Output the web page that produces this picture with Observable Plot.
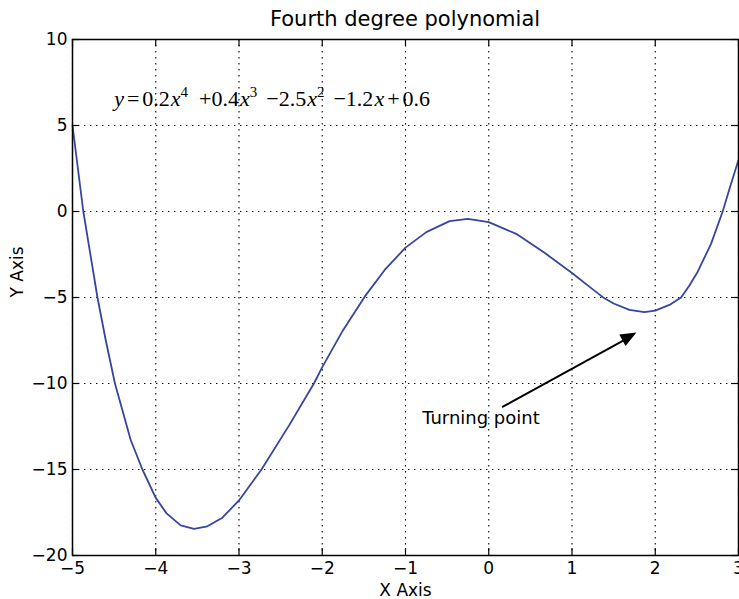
<!DOCTYPE html>
<html>
<head>
<meta charset="utf-8">
<script src="https://cdn.jsdelivr.net/npm/d3@7"></script>
<script src="https://cdn.jsdelivr.net/npm/@observablehq/plot@0.6"></script>
<style>
  html, body { margin: 0; padding: 0; background: #fff; }
  #title {
    width: 739px; height: 30px; box-sizing: border-box;
    padding-top: 9px; padding-left: 72px; padding-right: 1px;
    font: 21px/21px "DejaVu Sans", sans-serif; color: #000; text-align: center;
  }
  #chart svg { display: block; }
</style>
</head>
<body>
<div id="title">Fourth degree polynomial</div>
<div id="chart"></div>
<script>
// ---- data ----
const curveX = [-5.0, -4.87, -4.70, -4.60, -4.49, -4.30, -4.16, -4.0, -3.87, -3.70, -3.54, -3.38, -3.20, -3.0, -2.73, -2.40, -2.10, -2.0, -1.75, -1.49, -1.25, -1.0, -0.75, -0.47, -0.25, 0.0, 0.33, 0.67, 1.0, 1.2, 1.37, 1.5, 1.69, 1.87, 2.0, 2.17, 2.31, 2.41, 2.51, 2.67, 2.81, 2.90, 3.0];
const curveY = [5.0, 0.0, -5.0, -7.5, -10.0, -13.3, -15.0, -16.65, -17.55, -18.25, -18.45, -18.3, -17.8, -16.8, -15.0, -12.45, -10.0, -9.05, -6.9, -4.95, -3.4, -2.1, -1.2, -0.56, -0.43, -0.62, -1.3, -2.4, -3.58, -4.34, -4.98, -5.35, -5.72, -5.85, -5.76, -5.43, -5.0, -4.3, -3.5, -1.88, 0.0, 1.45, 3.0];

const xTicks = [-5, -4, -3, -2, -1, 0, 1, 2, 3];
const yTicks = [-20, -15, -10, -5, 0, 5, 10];
const xDomain = [-5, 3];
const yDomain = [-20, 10];

const xLabel = "X Axis";
const yLabel = "Y Axis";

// equation pieces: [text, style, gap before (px)]
const eqParts = [["y", "i", 0], ["=", "", 3], ["0.2", "", 3], ["x", "i", 1], ["4", "sup", 0], ["+0.4", "", 11], ["x", "i", 1], ["3", "sup", 0], ["\u22122.5", "", 9], ["x", "i", 1], ["2", "sup", 0], ["\u22121.2", "", 9], ["x", "i", 1], ["+", "", 3], ["0.6", "", 3]];
const eqText = eqParts.map(p => p[0]).join("");
const eqAnchor = [{x: -4.5, y: 6.55, text: eqText}];

const annLabel = [{x: -0.8, y: -12.0, text: "Turning point"}];
const annArrow = [{x1: 0.17, y1: -11.35, x2: 1.78, y2: -7.07}];

// ---- chart ----
const W = 739, H = 569;
const mL = 72, mR = 1, mT = 9, mB = 44;
const innerW = W - mL - mR, innerH = H - mT - mB;
const tickLen = 7;
const font = "DejaVu Sans, sans-serif";

const pts = curveX.map((x, i) => ({x, y: curveY[i]}));

const chart = Plot.plot({
  width: W, height: H,
  marginLeft: mL, marginRight: mR, marginTop: mT, marginBottom: mB,
  style: {background: "white", fontFamily: font, overflow: "visible"},
  x: {domain: xDomain, ticks: xTicks},
  y: {domain: yDomain, ticks: yTicks},
  marks: [
    Plot.gridX(xTicks, {stroke: "black", strokeOpacity: 1, strokeWidth: 1.1, strokeDasharray: "1.4,4.6"}),
    Plot.gridY(yTicks, {stroke: "black", strokeOpacity: 1, strokeWidth: 1.1, strokeDasharray: "1.4,4.6"}),
    Plot.axisX(xTicks, {tickSize: 0, tickPadding: 6, fontSize: 17, fontFamily: font, fill: "black", label: null}),
    Plot.axisY(yTicks, {tickSize: 0, tickPadding: 5, fontSize: 17, fontFamily: font, fill: "black", label: null}),
    // inward ticks on all four sides
    Plot.ruleX(xTicks, {x: d => d, insetTop: innerH - tickLen, stroke: "black", strokeWidth: 1.2}),
    Plot.ruleX(xTicks, {x: d => d, insetBottom: innerH - tickLen, stroke: "black", strokeWidth: 1.2}),
    Plot.ruleY(yTicks, {y: d => d, insetRight: innerW - tickLen, stroke: "black", strokeWidth: 1.2}),
    Plot.ruleY(yTicks, {y: d => d, insetLeft: innerW - tickLen, stroke: "black", strokeWidth: 1.2}),
    Plot.line(pts, {x: "x", y: "y", stroke: "#3545a0", strokeWidth: 1.8, strokeLinejoin: "round"}),
    Plot.text(eqAnchor, {x: "x", y: "y", text: "text", textAnchor: "start", lineAnchor: "middle", fontSize: 22, fontFamily: "Liberation Serif, DejaVu Serif, serif", fill: "black"}),
    Plot.text(annLabel, {x: "x", y: "y", text: "text", textAnchor: "start", lineAnchor: "middle", fontSize: 18, fontFamily: font, fill: "black"}),
    Plot.arrow(annArrow, {x1: "x1", y1: "y1", x2: "x2", y2: "y2", headLength: 0, insetEnd: 12, stroke: "black", strokeWidth: 2}),
    Plot.text([xLabel], {frameAnchor: "bottom", dy: 35, text: d => d, fontSize: 17, fontFamily: font, fill: "black", lineAnchor: "middle"}),
    Plot.text([yLabel], {frameAnchor: "left", dx: -55, rotate: -90, text: d => d, fontSize: 17, fontFamily: font, fill: "black", lineAnchor: "middle"}),
    Plot.frame({stroke: "black", strokeWidth: 1.5})
  ]
});

document.getElementById("chart").appendChild(chart);

// ---- equation: rebuild as math-style tspans ----
const svg = d3.select(chart);
svg.selectAll("text").filter(function () { return this.textContent === eqText; }).each(function () {
  const t = d3.select(this);
  t.text(null);
  let raised = false;
  for (const [s, kind, gap] of eqParts) {
    const sp = t.append("tspan").text(s);
    if (gap) sp.attr("dx", gap);
    if (kind === "i") sp.attr("font-style", "italic");
    if (kind === "sup") { sp.attr("font-size", 15).attr("dy", -9); raised = true; }
    else if (raised) { sp.attr("dy", 9); raised = false; }
  }
});

// ---- filled arrow head using the chart's scales ----
const sx = chart.scale("x"), sy = chart.scale("y");
for (const a of annArrow) {
  const x1 = sx.apply(a.x1), y1 = sy.apply(a.y1), x2 = sx.apply(a.x2), y2 = sy.apply(a.y2);
  const dx = x2 - x1, dy = y2 - y1, len = Math.hypot(dx, dy);
  const ux = dx / len, uy = dy / len, px = -uy, py = ux;
  const hl = 16, hw = 6.5;
  const bx = x2 - ux * hl, by = y2 - uy * hl;
  svg.append("polygon")
    .attr("points", [[x2, y2], [bx + px * hw, by + py * hw], [bx - px * hw, by - py * hw]].map(p => p.join(",")).join(" "))
    .attr("fill", "black");
}
</script>
</body>
</html>
